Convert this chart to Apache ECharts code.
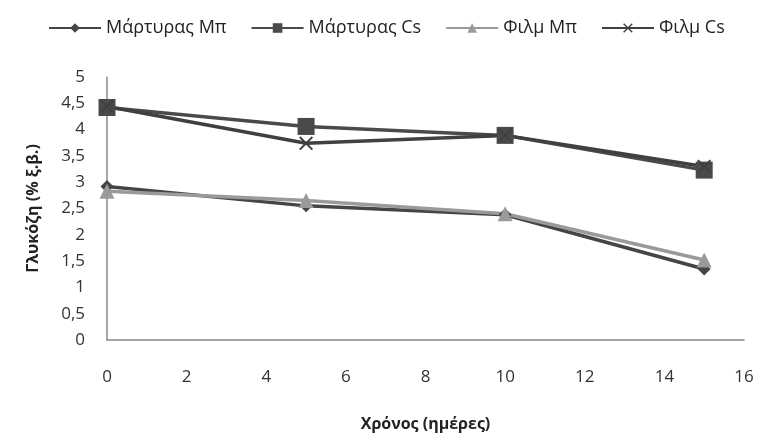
<!DOCTYPE html>
<html><head><meta charset="utf-8">
<script src="https://cdn.jsdelivr.net/npm/echarts@6/dist/echarts.min.js"></script>
<style>html,body{margin:0;padding:0;background:#fff}#c{width:758px;height:433px}</style>
</head><body><div id="c"></div>
<script>
const days = [0, 5, 10, 15];
const controlMp = [2.92, 2.55, 2.38, 1.35];
const controlCs = [4.42, 4.06, 3.89, 3.23];
const filmMp = [2.83, 2.65, 2.40, 1.52];
const filmCs = [4.44, 3.74, 3.89, 3.30];
const names = ['Μάρτυρας Μπ', 'Μάρτυρας Cs', 'Φιλμ Μπ', 'Φιλμ Cs'];

const xPath = 'path://M0,1L1,0L5,4L9,0L10,1L6,5L10,9L9,10L5,6L1,10L0,9L4,5Z';
function pts(arr){ return days.map((d,i)=>[d, arr[i]]); }
function s(name, data, color, symbol, size){
  return {name, type:'line', data:pts(data), symbol, symbolSize:size,
    lineStyle:{color, width:3.5}, itemStyle:{color}, z: 2};
}
const chart = echarts.init(document.getElementById('c'));
chart.setOption({
  animation:false,
  textStyle:{fontFamily:'Open Sans'},
  legend:{top:14, left:43, itemWidth:52, itemHeight:12, itemGap:24,
    textStyle:{fontSize:18, color:'#222', fontFamily:'Open Sans'},
    data:names},
  grid:{left:107, right:14, top:77, bottom:93, outerBoundsMode:'none', containLabel:false},
  xAxis:{type:'value', min:0, max:16, interval:2,
    axisLine:{lineStyle:{color:'#888', width:1.5}}, axisTick:{show:false}, splitLine:{show:false},
    axisLabel:{fontSize:17, color:'#333', margin:29},
    name:'Χρόνος (ημέρες)', nameLocation:'middle', nameGap:76,
    nameTextStyle:{fontSize:16, fontWeight:'bold', color:'#222'}},
  yAxis:{type:'value', min:0, max:5, interval:0.5,
    axisLine:{show:true, lineStyle:{color:'#888', width:1.5}}, axisTick:{show:false}, splitLine:{show:false},
    axisLabel:{fontSize:17, color:'#333', margin:22, formatter:v=>String(v).replace('.',',')},
    name:'Γλυκόζη (% ξ.β.)', nameLocation:'middle', nameGap:66,
    nameTextStyle:{fontSize:16, fontWeight:'bold', color:'#222'}},
  series:[
    s(names[0], controlMp, '#454545', 'diamond', 13),
    s(names[1], controlCs, '#4a4a4a', 'rect', 17),
    s(names[2], filmMp, '#9a9a9a', 'triangle', 15),
    s(names[3], filmCs, '#404040', xPath, 14)
  ]
});
</script></body></html>
